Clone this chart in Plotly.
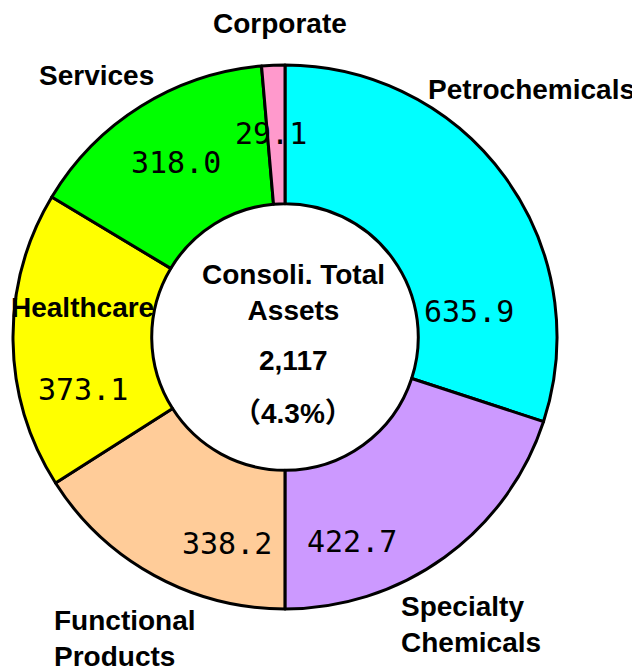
import plotly.graph_objects as go

segments = ["Petrochemicals", "Specialty Chemicals", "Functional Products",
            "Healthcare", "Services", "Corporate"]
values = [635.9, 422.7, 338.2, 373.1, 318.0, 29.1]
colors = ["#00FFFF", "#CC99FF", "#FFCC99", "#FFFF00", "#00FF00", "#FF99CC"]
center_title = "Consoli. Total<br>Assets"
growth = "（4.3%）"

OFF = 8  # page body margin
W, H = 640 - OFF, 672 - OFF
cx, cy, R = 285 - OFF, 337 - OFF, 272  # pixel layout of the donut


def px(x, y):
    return (x - OFF) / W, 1 - (y - OFF) / H


fig = go.Figure()
fig.add_trace(go.Pie(
    labels=segments, values=values, sort=False, direction="clockwise", rotation=0,
    hole=0.49, marker=dict(colors=colors, line=dict(color="black", width=3)),
    textinfo="none", hoverinfo="label+value", showlegend=False,
    domain=dict(x=[(cx - R) / W, (cx + R) / W], y=[1 - (cy + R) / H, 1 - (cy - R) / H]),
))

label_font = dict(family="Liberation Sans, Arial, sans-serif", size=28, color="black", weight="bold")
value_font = dict(family="DejaVu Sans Mono, monospace", size=30, color="black")

label_pos = {
    "Petrochemicals": (531, 90, "center"),
    "Specialty Chemicals": (400, 624, "left"),
    "Functional Products": (53, 638, "left"),
    "Healthcare": (82, 307, "center"),
    "Services": (96, 76, "center"),
    "Corporate": (280, 24, "center"),
}
label_text = {
    "Specialty Chemicals": "Specialty<br>Chemicals",
    "Functional Products": "Functional<br>Products",
}
value_pos = {
    "Petrochemicals": (469, 312),
    "Specialty Chemicals": (352, 541),
    "Functional Products": (227, 543),
    "Healthcare": (83, 389),
    "Services": (176, 162),
    "Corporate": (271, 133),
}

for name, v in zip(segments, values):
    lx, ly, al = label_pos[name]
    ax, ay = px(lx, ly)
    fig.add_annotation(x=ax, y=ay, xref="paper", yref="paper",
                       text=label_text.get(name, name), showarrow=False, borderpad=0,
                       xanchor=al, yanchor="middle", align=al, font=label_font)
    vx, vy = value_pos[name]
    bx, by = px(vx, vy)
    fig.add_annotation(x=bx, y=by, xref="paper", yref="paper",
                       text=f"{v:.1f}", showarrow=False, xanchor="center", yanchor="middle",
                       font=value_font)

total = sum(values)
center_lines = [(center_title, 292), (f"{total:,.0f}", 360), (growth, 413)]
for txt, y in center_lines:
    tx, ty = px(293, y)
    fig.add_annotation(x=tx, y=ty, xref="paper", yref="paper",
                       text=txt, showarrow=False, xanchor="center", yanchor="middle",
                       font=dict(family="Liberation Sans, Arial, Noto Sans CJK JP, sans-serif",
                                 size=28, color="black", weight="bold"))

fig.update_layout(width=W, height=H, margin=dict(l=0, r=0, t=0, b=0),
                  paper_bgcolor="white", plot_bgcolor="white")
fig.write_html("out.html")
